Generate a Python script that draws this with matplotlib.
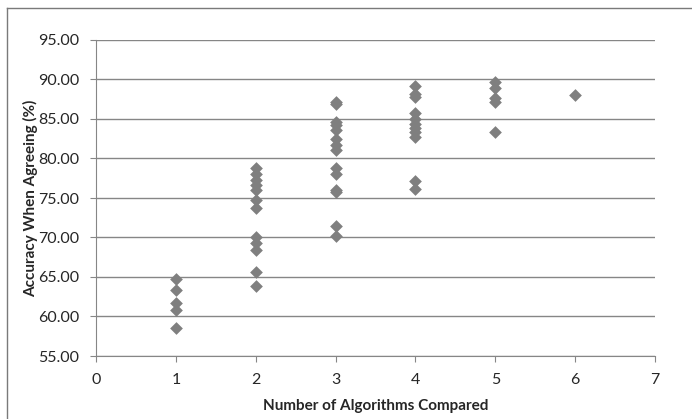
import matplotlib.pyplot as plt
from matplotlib.lines import Line2D
from matplotlib.ticker import FormatStrFormatter, MultipleLocator

# number of algorithms compared -> accuracy when they agree (%)
acc_1 = [64.7, 63.4, 61.7, 60.8, 58.5]
acc_2 = [78.8, 78.1, 77.3, 76.6, 76.0, 74.7, 73.7, 70.0, 69.3, 68.4, 65.6, 63.8]
acc_3 = [87.2, 86.9, 84.6, 84.2, 83.6, 82.5, 81.7, 81.1, 78.8, 78.0, 76.0, 75.8, 71.5, 70.2]
acc_4 = [89.2, 88.2, 87.8, 85.8, 85.0, 84.4, 83.9, 83.4, 82.7, 77.2, 76.1]
acc_5 = [89.7, 88.9, 87.6, 87.2, 83.4]
acc_6 = [88.0]

groups = [acc_1, acc_2, acc_3, acc_4, acc_5, acc_6]
xs = []
ys = []
for n, vals in enumerate(groups, start=1):
    xs += [n] * len(vals)
    ys += vals

grey = '#868686'
plt.rcParams['font.family'] = ['Lato', 'DejaVu Sans']

fig = plt.figure(figsize=(6.92, 4.19), dpi=100)
ax = fig.add_axes([96 / 692, 1 - 356 / 419, (655 - 96) / 692, (356 - 40) / 419])

ax.scatter(xs, ys, marker='D', s=42, color='#7f7f7f', zorder=3, linewidths=0)

ax.set_xlim(0, 7)
ax.set_ylim(55, 95)
ax.xaxis.set_major_locator(MultipleLocator(1))
ax.yaxis.set_major_locator(MultipleLocator(5))
ax.yaxis.set_major_formatter(FormatStrFormatter('%.2f'))
ax.grid(axis='y', color=grey, linewidth=1)
ax.set_axisbelow(True)

for side in ['top', 'right']:
    ax.spines[side].set_visible(False)
for side in ['left', 'bottom']:
    ax.spines[side].set_color(grey)
ax.tick_params(colors=grey, labelcolor='#262626', labelsize=11.5, length=4, direction='out')
ax.tick_params(axis='x', pad=8)
ax.tick_params(axis='y', pad=8)

ax.set_xlabel('Number of Algorithms Compared', fontsize=11, fontweight='bold', color='#262626', labelpad=9)
ax.set_ylabel('Accuracy When Agreeing (%)', fontsize=11, fontweight='bold', color='#262626', labelpad=0)

# chart area frame (only top and left edges visible in the crop)
fig.add_artist(Line2D([7 / 692, 1], [1 - 8 / 419, 1 - 8 / 419], color='#7a7a7a', linewidth=1))
fig.add_artist(Line2D([7 / 692, 7 / 692], [0, 1 - 8 / 419], color='#7a7a7a', linewidth=1))

fig.savefig('out.png', dpi=100)
